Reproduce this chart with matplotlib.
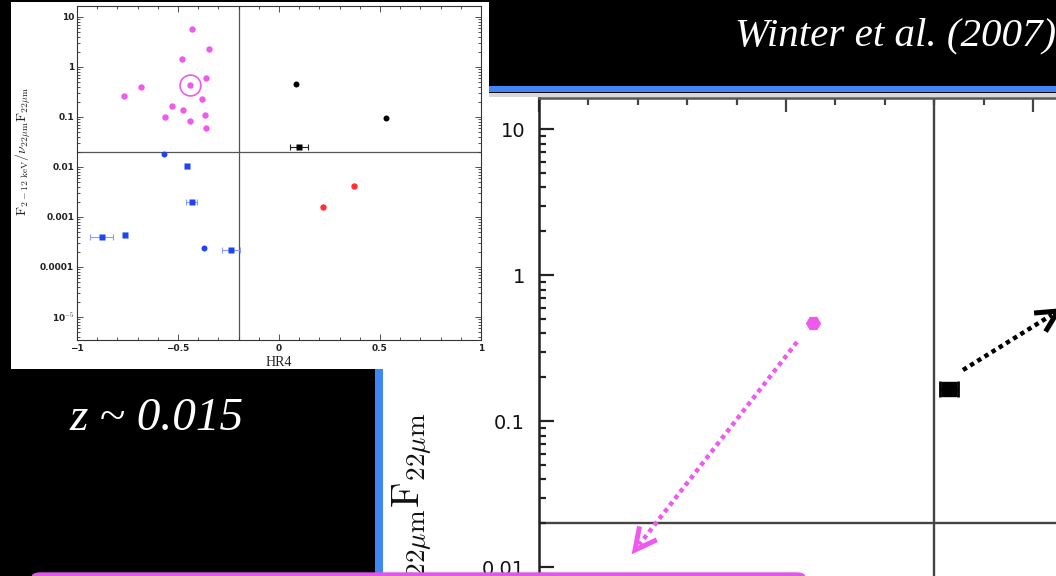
import matplotlib
matplotlib.use('Agg')
import matplotlib.pyplot as plt
from matplotlib.patches import Rectangle, FancyBboxPatch
from matplotlib.lines import Line2D
import matplotlib.ticker as mticker
import numpy as np

plt.rcParams['mathtext.fontset'] = 'cm'

# ---------------- data ----------------
# inset: Winter et al. style HR4 vs F(2-12 keV)/nuF(22um)
mag_x = [-0.432, -0.347, -0.482, -0.441, -0.363, -0.685, -0.769, -0.380, -0.528, -0.474, -0.564, -0.365, -0.442, -0.363]
mag_y = [5.8, 2.3, 1.42, 0.44, 0.59, 0.40, 0.26, 0.225, 0.166, 0.134, 0.100, 0.111, 0.082, 0.061]
highlight_x = [-0.441]
highlight_y = [0.44]
blk_x = [0.083, 0.531, 0.101]
blk_y = [0.45, 0.095, 0.025]
blk_xerr = [0.0, 0.0, 0.045]
blk_marker = ['o', 'o', 's']
red_x = [0.371, 0.219]
red_y = [0.0041, 0.0016]
blue_x = [-0.568, -0.455, -0.432, -0.878, -0.761, -0.371, -0.239]
blue_y = [0.0179, 0.0103, 0.0020, 3.9e-4, 4.4e-4, 2.4e-4, 2.15e-4]
blue_xerr = [0.0, 0.008, 0.028, 0.058, 0.008, 0.0, 0.045]
blue_marker = ['o', 's', 's', 's', 's', 'o', 's']
hr4_split = -0.2
ratio_split = 0.02

# enlarged panel (zoom of the published figure)
zoom_mag_x = [-0.445]
zoom_mag_y = [0.47]
zoom_blk_x = [-0.170]
zoom_blk_y = [0.166]
zoom_blk_xerr = [0.018]

ytick_vals = [1e-5, 1e-4, 1e-3, 1e-2, 0.1, 1, 10]
inset_ylabels = ['10$^{-5}$', '0.0001', '0.001', '0.01', '0.1', '1', '10']
main_ylabels = ['', '', '', '0.01', '0.1', '1', '10']
xtick_vals = [-1, -0.5, 0, 0.5, 1]
xtick_labels = ['\u22121', '\u22120.5', '0', '0.5', '1']
ylabel_txt = r'$\mathrm{F}_{2-12\ \mathrm{keV}}/\nu_{22\mu\mathrm{m}}\mathrm{F}_{22\mu\mathrm{m}}$'

# ---------------- styling ----------------
MAG = '#EE5AEE'
BLUE = '#1F44F2'
BLUE_ERR = '#8C9CFF'
RED = '#FF3030'
STRIPE = '#3F86F6'
BOX = '#E058E8'

W, H = 1056, 576
def fx(x): return x / W
def fy(y): return 1 - y / H

fig = plt.figure(figsize=(W / 100, H / 100), dpi=100, facecolor='black')
YLIM = (10 ** -5.46, 10 ** 1.215)

# ---- main (zoomed) panel background ----
fig.patches.append(Rectangle((fx(383), 0), 1 - fx(383), fy(93), transform=fig.transFigure,
                             facecolor='white', edgecolor='none', zorder=-2))
fig.patches.append(Rectangle((fx(383), fy(97)), 1 - fx(383), fy(93) - fy(97), transform=fig.transFigure,
                             facecolor='#d8d8d8', edgecolor='none', zorder=-2))
fig.patches.append(Rectangle((fx(375), 0), fx(383) - fx(375), fy(86), transform=fig.transFigure,
                             facecolor=STRIPE, edgecolor='none', zorder=-1))
fig.patches.append(Rectangle((fx(375), fy(92)), 1 - fx(375), fy(86) - fy(92), transform=fig.transFigure,
                             facecolor=STRIPE, edgecolor='none', zorder=-1))

# ---- main axes (extends beyond the figure) ----
m_top = 98
m_h = 146 * (np.log10(YLIM[1]) - np.log10(YLIM[0]))
ax = fig.add_axes([fx(539), fy(m_top + m_h), 988 / W, m_h / H], zorder=1)
ax.set_facecolor('white')
ax.set_xlim(-1, 1)
ax.set_yscale('log')
ax.set_ylim(*YLIM)
ax.set_yticks(ytick_vals, labels=main_ylabels)
ax.yaxis.set_minor_locator(mticker.LogLocator(base=10, subs=np.arange(2, 10)))
ax.yaxis.set_minor_formatter(mticker.NullFormatter())
ax.xaxis.set_major_locator(mticker.MultipleLocator(0.5))
ax.xaxis.set_minor_locator(mticker.MultipleLocator(0.1))
ax.tick_params(axis='y', which='both', direction='in', left=True, right=False, labelleft=True,
               labelsize=14, pad=10, width=1.6, color='#222')
ax.tick_params(axis='y', which='major', length=11)
ax.tick_params(axis='y', which='minor', length=5)
ax.tick_params(axis='x', which='both', direction='in', top=True, bottom=False,
               labelbottom=False, labeltop=False, width=1.6, color='#444')
ax.tick_params(axis='x', which='major', length=10)
ax.tick_params(axis='x', which='minor', length=5)
for lab in ax.get_yticklabels():
    lab.set_family('DejaVu Sans')
    lab.set_color('#111')
ax.spines['left'].set_linewidth(1.8)
ax.spines['left'].set_color('#222')
ax.spines['top'].set_linewidth(1.8)
ax.spines['top'].set_color('#555')
ax.spines['right'].set_visible(False)
ax.spines['bottom'].set_visible(False)
ax.axvline(hr4_split, color='#444', lw=1.7, zorder=1)
ax.axhline(ratio_split, color='#444', lw=1.7, zorder=1)
ax.plot(zoom_mag_x, zoom_mag_y, 'H', ms=11, color=MAG, mec='none', zorder=3)
ax.errorbar(zoom_blk_x, zoom_blk_y, xerr=zoom_blk_xerr, fmt='s', ms=10, color='black',
            capsize=6, elinewidth=2, capthick=2, zorder=3)

fig.text(fx(412), fy(413), ylabel_txt, rotation=90, ha='center', va='top', fontsize=28,
         color='#111', zorder=2)

# ---- inset panel ----
fig.patches.append(Rectangle((fx(11), fy(369)), fx(489) - fx(11), fy(2) - fy(369),
                             transform=fig.transFigure, facecolor='white', edgecolor='none', zorder=2))
ins = fig.add_axes([fx(77), fy(340), 404 / W, 334 / H], zorder=3)
ins.set_facecolor('white')
ins.set_xlim(-1, 1)
ins.set_yscale('log')
ins.set_ylim(*YLIM)
ins.set_yticks(ytick_vals, labels=inset_ylabels)
ins.yaxis.set_minor_locator(mticker.LogLocator(base=10, subs=np.arange(2, 10)))
ins.yaxis.set_minor_formatter(mticker.NullFormatter())
ins.set_xticks(xtick_vals, labels=xtick_labels)
ins.xaxis.set_minor_locator(mticker.MultipleLocator(0.1))
ins.tick_params(which='both', direction='in', top=True, right=True, width=0.6, color='#333')
ins.tick_params(which='major', length=4)
ins.tick_params(which='minor', length=2)
ins.tick_params(axis='y', labelsize=6.5, pad=2)
ins.tick_params(axis='x', labelsize=6.5, pad=3)
for lab in ins.get_yticklabels() + ins.get_xticklabels():
    lab.set_fontweight('bold')
    lab.set_color('#222')
for s in ins.spines.values():
    s.set_linewidth(0.8)
    s.set_color('#333')
ins.axvline(hr4_split, color='#555', lw=0.9, zorder=1)
ins.axhline(ratio_split, color='#555', lw=0.9, zorder=1)
ins.plot(mag_x, mag_y, 'o', ms=4.6, color=MAG, mec='none', zorder=3)
ins.plot(highlight_x, highlight_y, 'o', ms=15, mfc='none', mec=MAG, mew=1.2, zorder=3)
for x, y, e, m in zip(blue_x, blue_y, blue_xerr, blue_marker):
    if e > 0:
        ins.errorbar([x], [y], xerr=[e], fmt='none', ecolor=BLUE_ERR, elinewidth=0.8,
                     capsize=2.5, capthick=0.8, zorder=2)
    ins.plot([x], [y], m, ms=4.3, color=BLUE, mec='none', zorder=3)
for x, y, e, m in zip(blk_x, blk_y, blk_xerr, blk_marker):
    if e > 0:
        ins.errorbar([x], [y], xerr=[e], fmt='none', ecolor='#222', elinewidth=0.8,
                     capsize=2.5, capthick=0.8, zorder=2)
    ins.plot([x], [y], m, ms=4.3, color='black', mec='none', zorder=3)
ins.plot(red_x, red_y, 'o', ms=4.6, color=RED, mec='none', zorder=3)

fig.text(fx(279), fy(362), 'HR4', ha='center', va='center', fontsize=10,
         family='Liberation Serif', color='#222', zorder=4)
fig.text(fx(23), fy(151), ylabel_txt, rotation=90, ha='center', va='center', fontsize=10,
         color='#222', zorder=4)

# ---- dotted arrows ----
def dotted_arrow(tail, tip, color, arm=24, spread=27):
    tx, ty = tail
    px, py = tip
    d = np.array([tx - px, ty - py], dtype=float)
    d /= np.hypot(*d)
    end = np.array([px, py]) + d * 7
    fig.add_artist(Line2D([fx(tx), fx(end[0])], [fy(ty), fy(end[1])], transform=fig.transFigure,
                          color=color, lw=3.2, linestyle=(0, (1, 0.9)), dash_capstyle='butt',
                          zorder=6))
    pts = []
    for sgn in (1, -1):
        a = np.deg2rad(spread * sgn)
        r = np.array([d[0] * np.cos(a) - d[1] * np.sin(a), d[0] * np.sin(a) + d[1] * np.cos(a)])
        pts.append(np.array([px, py]) + r * arm)
    xs = [pts[0][0], px, pts[1][0]]
    ys = [pts[0][1], py, pts[1][1]]
    fig.add_artist(Line2D([fx(v) for v in xs], [fy(v) for v in ys], transform=fig.transFigure,
                          color=color, lw=3.6, solid_joinstyle='miter', solid_capstyle='butt',
                          zorder=6))

dotted_arrow((797, 342), (635, 550), MAG)
dotted_arrow((963, 370), (1058, 311), 'black')

# ---- slide texts ----
fig.text(fx(735), fy(45), 'Winter et al. (2007)', color='white', fontsize=29.5,
         family='Liberation Serif', style='italic', ha='left', va='baseline', zorder=7)
fig.text(fx(70), fy(430), 'z ~ 0.015', color='white', fontsize=34,
         family='Liberation Serif', style='italic', ha='left', va='baseline', zorder=7)

# ---- magenta box at the bottom ----
fig.patches.append(FancyBboxPatch((fx(32), fy(610)), fx(805) - fx(32), fy(573) - fy(610),
                                  boxstyle='round,pad=0,rounding_size=0.008',
                                  transform=fig.transFigure, facecolor=BOX, edgecolor=BOX,
                                  lw=1, zorder=7))

fig.savefig('out.png', dpi=100, facecolor='black')
